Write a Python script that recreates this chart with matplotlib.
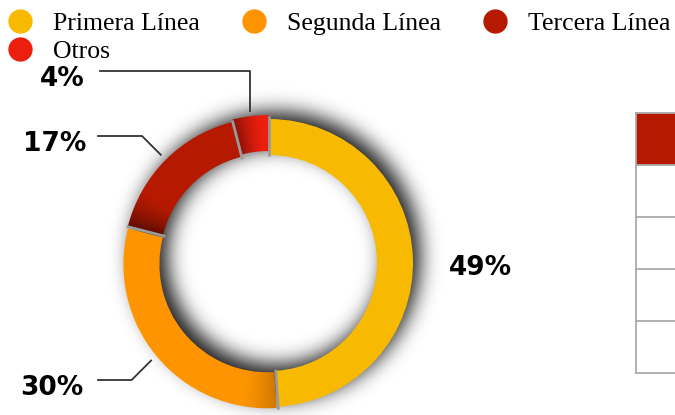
import numpy as np
import matplotlib.pyplot as plt
from matplotlib.lines import Line2D
from matplotlib.patches import Wedge

labels = ['Primera Línea', 'Segunda Línea', 'Tercera Línea', 'Otros']
shares = [49, 30, 17, 4]
colors = ['#F7BA00', '#FD9400', '#B51A00', '#EC1F0E']
explode = [0, 2, 2, 4]

# label text centres (data = pixel coords, y up) and leader style
pct_pos = [(480, 150), (52, 30), (55, 274), (62, 339)]
leader = [None, 'diag', 'diag', 'vert']

# strip of the table at the right edge
table_fill = ['#B51A00', 'white', 'white', 'white', 'white']

W, H = 675, 415
cx, cy = 269, 152
R, ring = 144, 36

fig = plt.figure(figsize=(W / 100, H / 100), dpi=100)
ax = fig.add_axes([0, 0, 1, 1])


def phi(x):
    return 0.5 * (1 + np.tanh(0.7978845608 * (x + 0.044715 * x ** 3)))


# soft drop shadow of the ring, pushed a little up and right
xx, yy = np.meshgrid(np.arange(W) + 0.5, np.arange(H) + 0.5)
r = np.hypot(xx - (cx + 7), yy - (cy + 7))
sig = 10.0
cover = phi((R - r) / sig) - phi((R - ring - r) / sig)
shadow = np.zeros((H, W, 4))
shadow[..., 3] = 0.9 * np.clip(cover, 0, 1)
ax.imshow(shadow, extent=(0, W, 0, H), origin='lower', zorder=0,
          interpolation='bilinear')

wedges, _ = ax.pie(shares, colors=colors, startangle=90, counterclock=False,
                   radius=R, center=(cx, cy), explode=explode,
                   wedgeprops=dict(width=ring, linewidth=0))
for w in wedges:
    w.set_zorder(2)

# darken each wedge where it starts (clockwise), like an overlap shade
shade = [0, 0.18, 0.45, 0.4]
for w, s in zip(wedges, shade):
    if not s:
        continue
    steps = 12
    span = min(14.0, (w.theta2 - w.theta1) * 0.8)
    for k in range(steps):
        t2 = w.theta2 - span * k / steps
        t1 = w.theta2 - span * (k + 1) / steps
        a = s * (1 - k / steps) ** 1.5
        ax.add_patch(Wedge(w.center, w.r, t1, t2, width=w.width,
                           facecolor='black', alpha=a, lw=0, zorder=3))

# thin grey seams between slices
bounds = 90 - 3.6 * np.cumsum([0] + shares[:-1])
for b in bounds:
    t = np.deg2rad(b)
    ax.plot([cx + (R - ring - 1) * np.cos(t), cx + (R + 3) * np.cos(t)],
            [cy + (R - ring - 1) * np.sin(t), cy + (R + 3) * np.sin(t)],
            color='#9a9a9a', lw=2, zorder=4, solid_capstyle='butt')

# percentage labels with leader lines
mids = 90 - 3.6 * (np.cumsum(shares) - np.array(shares) / 2)
for v, (tx, ty), m, kind in zip(shares, pct_pos, mids, leader):
    ax.text(tx, ty - 3, f'{v}%', ha='center', va='center', fontsize=19,
            fontweight='bold', family='DejaVu Sans', zorder=5)
    if kind is None:
        continue
    t = np.deg2rad(m)
    ex, ey = cx + 153 * np.cos(t), cy + 153 * np.sin(t)
    ly = ty + 5
    if kind == 'vert':
        xs, ys = [100, ex, ex], [ly, ly, ey]
    else:
        xs, ys = [98, ex - abs(ey - ly), ex], [ly, ly, ey]
    ax.plot(xs, ys, color='#333333', lw=1.3, zorder=5)

ax.set_xlim(0, W)
ax.set_ylim(0, H)
ax.set_aspect('equal')
ax.axis('off')

handles = [Line2D([], [], ls='none', marker='o', ms=16.5, mfc=c, mec=c)
           for c in colors]
order = [0, 3, 1, 2]
ax.legend([handles[i] for i in order], [labels[i] for i in order], ncol=3,
          loc='upper left', bbox_to_anchor=(0.0, 1 - 5 / H),
          bbox_transform=fig.transFigure, frameon=False,
          prop=dict(family='Liberation Serif', size=18.5),
          handlelength=1.0, handletextpad=0.78, columnspacing=1.6,
          labelspacing=0.17, borderaxespad=0.0, borderpad=0.28)

# table strip, cut off by the right edge
tax = fig.add_axes([636 / W, (H - 373) / H, 100 / W, 260 / H])
tax.set_xlim(0, 1)
tax.set_ylim(len(table_fill), 0)
for i, f in enumerate(table_fill):
    tax.axhspan(i, i + 1, color=f, lw=0)
for i in range(len(table_fill) + 1):
    tax.axhline(i, color='#aaaaaa', lw=1.3, clip_on=False)
tax.axvline(0, color='#aaaaaa', lw=1.3, clip_on=False)
tax.axis('off')

fig.savefig('out.png', dpi=100)
